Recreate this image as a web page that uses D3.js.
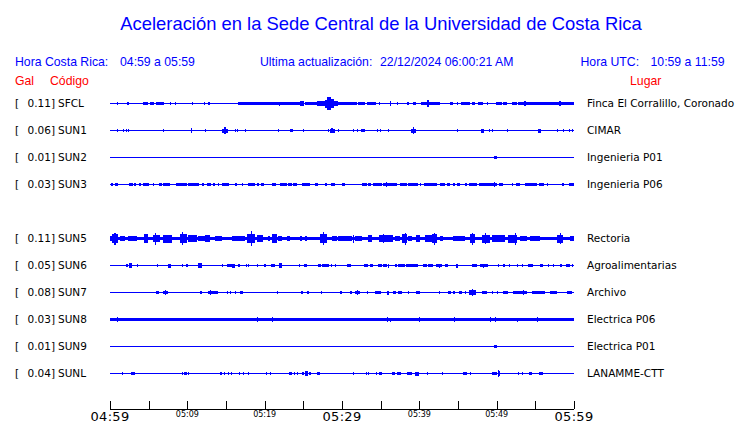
<!DOCTYPE html>
<html><head><meta charset="utf-8">
<script src="https://cdn.jsdelivr.net/npm/d3@7/dist/d3.min.js"></script>
<style>
html,body{margin:0;padding:0;background:#fff;}
svg{display:block;}
</style></head>
<body>
<svg id="c" width="740" height="423"></svg>
<script>
// ---------- DATA ----------
const title = "Aceleración en la Sede Central de la Universidad de Costa Rica";
const horaCR = "04:59 a 05:59";
const actualizacion = "22/12/2024 06:00:21 AM";
const horaUTC = "10:59 a 11:59";

// slots (SUN4 has no data in this window)
const slots = ["SFCL","SUN1","SUN2","SUN3","SUN4","SUN5","SUN6","SUN7","SUN8","SUN9","SUNL"];
const stations = ["SFCL","SUN1","SUN2","SUN3","SUN5","SUN6","SUN7","SUN8","SUN9","SUNL"];
const peakGal = ["0.11","0.06","0.01","0.03","0.11","0.05","0.08","0.03","0.01","0.04"];
const places = ["Finca El Corralillo, Coronado","CIMAR","Ingenieria P01","Ingenieria P06","Rectoria","Agroalimentarias","Archivo","Electrica P06","Electrica P01","LANAMME-CTT"];
// background noise level (relative amplitude)
const noiseLevel = [0.6,0.6,0.6,0.6,2.1,0.6,0.6,2.1,0.6,0.6];

// time axis: minutes since 04:59
const tickMinutes = [0,5,10,15,20,25,30,35,40,45,50,55,60];
const labelMinutes = [0,10,20,30,40,50,60];
const tickLabels = ["04:59","05:09","05:19","05:29","05:39","05:49","05:59"];
const majorLabels = ["04:59","05:29","05:59"];

// bursts: [start minute, end minute, relative amplitude]
const burstsSFCL = [[0.87,0.87,1.5],[2.16,2.5,1.5],[4.31,4.88,2],[5.17,5.73,2],[5.91,6.98,2],[7.76,7.76,1.5],[8.41,8.41,1.5],[10.57,10.57,2],[12.16,12.16,1.5],[12.71,12.93,2],[16.59,24.57,2],[21.8,21.8,2.5],[24.57,25.09,3.2],[25.22,26.73,2.2],[26.73,27.38,3.2],[27.4,27.8,2.8],[27.8,28.07,5],[28.07,28.58,8.2],[28.58,28.97,5.5],[28.97,29.5,3.5],[29.5,30.4,2],[30.4,31.94,1.8],[32.07,32.97,1.8],[33.23,34.4,2],[34.79,34.79,1.5],[36.2,36.2,3],[37.1,37.1,1.5],[38.4,38.66,2],[39.18,39.57,2],[40.22,42.67,2],[41.0,41.25,4],[43.97,44.35,1.5],[44.87,44.87,1.5],[45.39,46.55,2],[46.81,47.2,1.5],[47.6,48.24,2],[48.75,48.75,1.5],[49.92,50.7,2],[50.82,51.34,1.5],[51.98,52.63,2],[52.76,60,2],[53.55,53.8,3],[58.1,58.3,3]];
const burstsSUN1 = [[0.87,0.87,1.5],[1.72,1.72,1.5],[2.03,2.03,1.5],[2.37,2.37,1.5],[6.9,6.9,1.5],[10.43,10.43,3],[11.55,11.55,1],[12.28,12.28,1.5],[14.52,15.22,2.5],[14.8,14.95,4],[16.16,16.16,1.5],[16.46,16.46,1.5],[16.94,16.94,1],[17.46,17.46,1.5],[21.77,21.77,1.5],[23.28,23.63,2],[25.0,25.0,1.5],[28.23,28.23,1.5],[28.45,29.1,2.5],[28.6,28.8,3.5],[29.45,29.6,1.5],[29.96,29.96,1],[31.47,31.47,1.5],[31.9,31.9,1.5],[32.46,32.97,2],[34.57,34.57,1.5],[34.92,34.92,1.5],[35.91,35.91,1.5],[38.92,39.57,2.5],[39.15,39.25,4.5],[44.83,44.83,1.5],[47.98,48.37,2.5],[49.05,49.05,1.5],[49.36,49.36,1.5],[50.0,50.0,1],[51.38,51.38,1.5],[55.39,55.7,2.5],[57.77,57.97,1.5],[58.62,58.62,1.5],[59.4,59.4,1.5],[59.79,59.79,1.5]];
const burstsSUN2 = [[49.66,50.0,1.5]];
const burstsSUN3 = [[0.13,0.4,1.8],[0.7,1.07,1.8],[2.46,3.01,1.8],[3.14,3.36,1.8],[3.75,4.0,1.8],[4.31,5.08,2],[5.6,5.6,1.5],[6.34,6.77,1.8],[6.9,7.76,2],[8.53,9.92,2],[10.05,11.51,2],[11.86,12.16,1.8],[12.5,13.06,2],[13.28,13.58,1.8],[13.92,13.92,1.5],[14.52,15.39,2],[16.16,16.46,1.8],[17.03,17.24,1.8],[17.8,18.75,2],[18.97,19.27,1.8],[19.53,19.95,1.8],[20.9,21.43,1.8],[21.98,22.84,2],[22.97,23.58,1.8],[23.71,24.14,1.8],[24.78,25.86,1.8],[26.51,26.94,1.8],[27.8,28.02,1.8],[28.58,29.1,2],[29.96,30.39,1.8],[32.55,33.2,1.8],[33.4,33.71,1.8],[34.05,35.13,2],[35.26,37.15,2],[35.75,35.82,2.8],[37.5,38.37,1.8],[38.58,39.87,2],[40.09,40.09,1.5],[40.65,42.25,2],[42.67,43.32,1.8],[43.54,43.97,1.8],[44.4,44.61,1.8],[44.92,45.26,1.8],[45.91,46.21,1.8],[46.46,47.5,2],[47.72,50.0,2],[49.6,49.75,3],[50.34,50.86,1.8],[51.95,51.95,1.5],[52.5,53.02,1.8],[53.67,55.18,2],[55.52,56.12,1.8],[56.47,56.47,1.5],[58.41,58.71,1.8],[59.4,60,1.8]];
const burstsSUN5 = [[0,0.43,3],[0.3,1.07,6],[0.55,0.75,7.5],[1.29,1.94,3],[2.33,3.45,3],[4.44,4.96,6],[5.6,6.47,4.5],[5.78,5.86,7.5],[6.9,7.98,5],[9.05,9.92,6],[9.3,9.4,8],[10.05,11.21,4],[11.42,12.28,3],[12.28,12.93,4],[13.58,14.44,3],[15.74,17.46,3],[17.68,18.75,6],[18.25,18.4,9],[18.97,19.82,4],[20.47,20.69,3],[20.9,21.56,6],[21.77,22.2,3.5],[22.85,23.28,3.5],[24.57,24.87,3],[25.22,25.44,3.5],[27.16,28.02,6],[27.5,27.65,8],[28.67,29.32,3.5],[29.52,30.39,3.5],[29.74,31.26,3],[31.47,31.47,5],[31.68,32.55,3],[33.4,33.84,4],[34.83,36.64,4],[35.28,35.4,5.5],[36.85,37.5,3.5],[37.72,38.37,5.5],[38.1,38.2,7.5],[38.58,39.01,3.5],[39.57,40.09,4],[40.73,41.6,4],[41.6,42.25,6],[41.9,42.0,7.5],[42.67,43.1,3],[44.4,45.91,3.5],[46.55,47.2,5.5],[46.85,46.95,7.5],[48.07,49.14,5],[48.45,48.55,6.5],[49.36,51.08,4],[51.51,52.59,5],[52.33,52.42,7.5],[53.02,53.88,3.5],[54.31,55.6,3],[57.77,58.62,5],[58.15,58.25,6.5],[59.49,60,3]];
const burstsSUN6 = [[2.03,2.29,1.8],[2.46,2.8,3],[3.45,3.66,1.8],[6.12,6.12,1.5],[7.54,7.85,2.5],[9.35,9.35,1.5],[9.83,10.05,1.8],[11.42,11.94,3],[14.52,14.52,1.5],[15.17,15.74,1.8],[15.74,16.16,2.5],[16.59,16.81,1.8],[17.55,17.55,1.5],[17.89,17.89,1.5],[18.97,18.97,1.5],[19.95,20.17,1.5],[20.82,21.34,1.8],[21.85,22.28,3],[24.48,24.48,1.5],[25.13,25.44,1.8],[26.94,27.29,1.8],[27.46,28.32,1.8],[28.58,28.58,1.5],[29.1,29.1,1.5],[30.6,31.13,1.8],[32.85,33.4,1.8],[33.62,33.97,1.5],[34.7,35.13,1.5],[35.34,35.78,1.8],[35.91,35.91,2.5],[36.85,37.07,1.5],[37.28,38.15,1.8],[38.28,39.79,1.8],[40.52,40.95,1.8],[41.16,41.81,1.5],[42.16,42.89,1.8],[42.6,42.6,2.5],[43.32,43.75,1.5],[44.74,45.04,2.5],[46.77,47.42,1.8],[47.85,48.92,1.8],[48.2,48.2,2.5],[50.21,50.21,1.5],[50.86,51.08,1.5],[51.64,51.64,1.5],[52.59,52.8,1.5],[53.24,53.45,1.5],[54.02,54.74,1.8],[55.6,55.95,1.8],[56.68,56.68,1.5],[57.25,57.25,1.5],[58.19,58.41,1.5],[58.97,59.49,1.5],[59.79,59.79,1.5]];
const burstsSUN7 = [[5.91,6.34,2],[6.9,7.46,2],[7.1,7.2,3],[11.64,11.94,2.2],[12.71,14.0,2],[12.9,13.0,3],[15.09,15.09,1.5],[15.52,15.52,1.5],[16.16,16.16,1.5],[16.81,17.24,2],[21.56,21.56,1.5],[23.71,23.71,1],[24.7,25.0,2],[25.52,25.73,2],[27.29,27.29,1.5],[29.74,29.95,1.5],[31.04,31.26,1.5],[31.68,32.33,2],[31.95,32.02,3],[33.2,33.2,1.5],[34.27,35.0,2],[35.78,36.12,2.5],[36.64,36.98,2],[37.28,37.72,1.8],[38.58,38.58,1.5],[39.53,40.09,2],[42.59,42.59,2],[43.75,44.06,1.5],[44.4,44.61,1.5],[45.17,45.48,1.5],[45.91,45.91,1.5],[46.46,47.33,3],[46.85,46.95,4.5],[48.07,48.71,2],[49.36,49.57,1.5],[50.0,50.0,1.5],[50.86,51.51,1.5],[52.16,53.88,1.5],[53.4,53.5,3],[54.53,56.25,1.5],[55.4,55.5,2],[56.9,57.77,1.5],[59.06,59.7,1.5]];
const burstsSUN8 = [[0.87,0.87,2.8],[18.97,18.97,2.8],[20.9,20.9,2.8],[35.78,35.78,2.8],[36.2,36.2,2.5],[40.0,40.0,2.8],[44.52,44.52,2.8],[49.14,49.14,2.8],[49.79,49.79,3],[52.59,52.59,2.5],[55.18,55.18,2.8]];
const burstsSUN9 = [[49.66,50.0,1.5]];
const burstsSUNL = [[1.51,1.51,2],[2.67,2.67,1.5],[2.89,3.23,2],[4.96,4.96,1],[9.27,9.27,1.5],[9.61,9.92,2],[10.05,10.26,2],[13.23,13.23,1],[14.22,14.44,2],[14.78,14.78,1.5],[15.22,15.22,1.5],[15.65,15.65,1.5],[16.68,16.68,1.5],[17.24,17.24,1.5],[17.8,17.8,2],[20.13,20.13,1.5],[20.69,20.69,1.5],[23.15,23.5,2],[23.84,23.84,1.5],[24.22,24.22,1.5],[24.79,25.13,1.8],[25.22,25.56,3],[25.73,26.0,2],[26.73,27.16,2],[29.4,29.4,1],[31.47,31.47,1.5],[33.06,33.06,1.5],[33.4,33.4,1.5],[34.4,34.57,1.5],[34.83,35.13,2],[35.78,35.78,1],[36.42,36.85,1.8],[37.07,37.59,2],[38.06,38.06,1],[38.45,39.01,1.8],[39.44,39.96,2.5],[41.04,41.04,1.5],[42.98,42.98,1.5],[45.61,46.13,2],[46.55,46.55,1.5],[49.36,50.0,2],[50.13,50.43,3],[50.22,50.3,4.5],[52.8,52.8,1.5],[53.24,53.24,1.5],[54.22,54.53,1.5],[55.52,55.95,2],[57.33,57.33,1]];

const bursts = [burstsSFCL,burstsSUN1,burstsSUN2,burstsSUN3,burstsSUN5,burstsSUN6,burstsSUN7,burstsSUN8,burstsSUN9,burstsSUNL];

// ---------- DRAW ----------
const svg = d3.select("#c");
const BLUE = "#0000ff", RED = "#ff0000";
const x = d3.scaleLinear().domain([0,60]).range([110,574]);
const y = d3.scalePoint().domain(slots).range([103,373]);
const amp = d3.scaleLinear().domain([0,10]).range([0,8]);

svg.append("text").attr("x",381).attr("y",30).attr("text-anchor","middle")
  .attr("font-family","Liberation Sans, Arial, sans-serif").attr("font-size",18.4)
  .attr("fill",BLUE).text(title);

const hdr = (tx,px,py,col,anchor) => svg.append("text").attr("x",px).attr("y",py)
  .attr("text-anchor",anchor||"start")
  .attr("font-family","Liberation Sans, Arial, sans-serif").attr("font-size",12.25)
  .attr("fill",col).text(tx);
hdr("Hora Costa Rica:",15,65.5,BLUE);
hdr(horaCR,120,65.5,BLUE);
hdr("Ultima actualización:",260,65.5,BLUE);
hdr(actualizacion,380,65.5,BLUE);
hdr("Hora UTC:",580.5,65.5,BLUE);
hdr(horaUTC,650.5,65.5,BLUE);
hdr("Gal",15,84.5,RED);
hdr("Código",50,84.5,RED);
hdr("Lugar",630,84.5,RED);

const rows = svg.append("g");
stations.forEach((s,i) => {
  const cy = y(s);
  const g = rows.append("g").attr("shape-rendering","crispEdges");
  // background trace
  const nb = amp(noiseLevel[i]);
  g.append("rect").attr("x",x(0)).attr("width",x(60)-x(0))
    .attr("y",cy+0.5-Math.max(nb,0.5)).attr("height",Math.max(2*nb,1)).attr("fill",BLUE);
  g.selectAll("rect.b").data(bursts[i]).join("rect").attr("class","b")
    .attr("x",d=>x(d[0]))
    .attr("width",d=>Math.max(1,x(d[1])-x(d[0])))
    .attr("y",d=>cy+0.5-amp(d[2]))
    .attr("height",d=>2*amp(d[2]))
    .attr("fill",BLUE);
  const tf = {"font-family":"DejaVu Sans, sans-serif","font-size":10.5,"fill":"#000"};
  const t1 = rows.append("text").attr("x",15).attr("y",cy+4).text("[");
  const t2 = rows.append("text").attr("x",55).attr("y",cy+4).attr("text-anchor","end").text(peakGal[i]+"]");
  const t3 = rows.append("text").attr("x",58).attr("y",cy+4).text(s);
  const t4 = rows.append("text").attr("x",587).attr("y",cy+4).text(places[i]);
  [t1,t2,t3,t4].forEach(t=>{for(const k in tf) t.attr(k,tf[k]);});
});

// time axis
const axisY = 409;
const ax = svg.append("g").attr("transform",`translate(0,${axisY})`);
ax.call(d3.axisBottom(x).tickValues(tickMinutes).tickSize(-8).tickFormat(""));
ax.select(".domain").attr("d",`M${x(0)},0.5H${x(60)}`).attr("stroke","#000").attr("shape-rendering","crispEdges");
ax.selectAll(".tick line").attr("stroke","#000").attr("shape-rendering","crispEdges");
ax.selectAll(".tick").attr("transform",d=>`translate(${Math.round(x(d))+0.5},0)`);
labelMinutes.forEach((m,i) => {
  const lab = tickLabels[i];
  const major = majorLabels.includes(lab);
  svg.append("text").attr("x",x(m)).attr("y",major?420.5:417)
    .attr("text-anchor","middle")
    .attr("font-family","DejaVu Sans, sans-serif")
    .attr("font-size",major?13:8)
    .attr("letter-spacing",major?0.3:0)
    .attr("fill","#000").text(lab);
});
</script>
</body></html>
